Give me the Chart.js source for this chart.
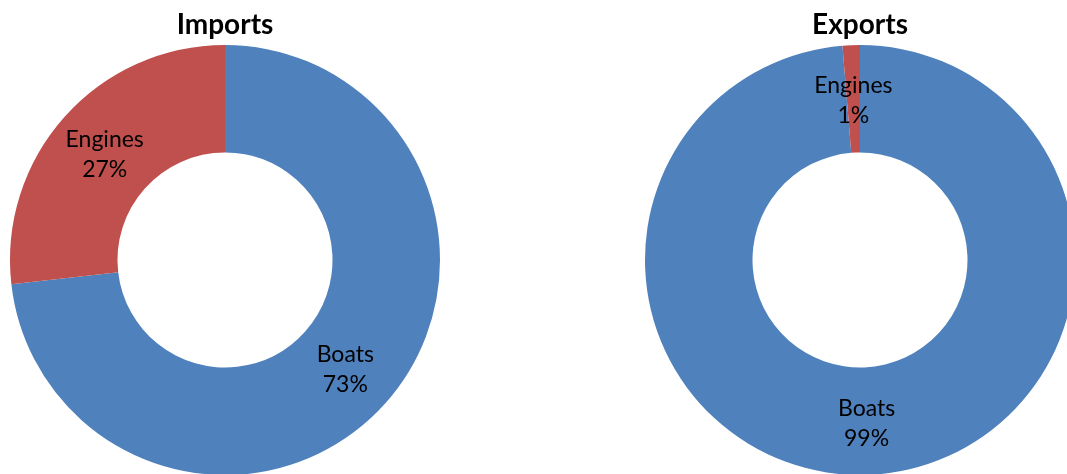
<!DOCTYPE html>
<html>
<head>
<meta charset="utf-8">
<script src="https://cdn.jsdelivr.net/npm/chart.js@4.4.1/dist/chart.umd.min.js"></script>
<style>
    html, body { margin: 0; padding: 0; background: #fff; overflow: hidden; width: 1067px; height: 474px; }
    canvas { position: absolute; top: 0; }
    #imports-chart { left: 0; }
    #exports-chart { left: 635px; }
</style>
</head>
<body>
<canvas id="imports-chart" width="450" height="475"></canvas>
<canvas id="exports-chart" width="450" height="475"></canvas>
<script>
// Chart data
const categories = ['Boats', 'Engines'];
const importsValues = [73.2, 26.8];
const exportsValues = [98.7, 1.3];
const sliceColors = ['#4F81BD', '#C0504D'];

const FONT = 'Lato, "Liberation Sans", sans-serif';

// Draws "Name\nNN%" at the middle of each slice
const sliceLabels = {
    id: 'sliceLabels',
    afterDatasetsDraw(chart) {
        const ctx = chart.ctx;
        const meta = chart.getDatasetMeta(0);
        const values = chart.data.datasets[0].data;
        const total = values.reduce((a, b) => a + b, 0);
        ctx.save();
        ctx.font = '23px ' + FONT;
        ctx.fillStyle = '#000';
        ctx.textAlign = 'center';
        ctx.textBaseline = 'middle';
        meta.data.forEach((arc, i) => {
            const pos = arc.tooltipPosition();
            const pct = Math.round(values[i] / total * 100) + '%';
            ctx.fillText(chart.data.labels[i], pos.x, pos.y - 13);
            ctx.fillText(pct, pos.x, pos.y + 17);
        });
        ctx.restore();
    }
};

function makeDonut(id, title, values) {
    const ctx = document.getElementById(id).getContext('2d');
    return new Chart(ctx, {
        type: 'doughnut',
        data: {
            labels: categories,
            datasets: [{
                data: values,
                backgroundColor: sliceColors,
                borderWidth: 0
            }]
        },
        options: {
            responsive: false,
            animation: false,
            cutout: '50%',
            layout: { padding: 0 },
            plugins: {
                legend: { display: false },
                tooltip: { enabled: false },
                title: {
                    display: true,
                    text: title,
                    color: '#000',
                    font: { family: FONT, size: 28, weight: 'bold', lineHeight: 1.2 },
                    padding: { top: 8, bottom: 3.4 }
                }
            }
        },
        plugins: [sliceLabels]
    });
}

makeDonut('imports-chart', 'Imports', importsValues);
makeDonut('exports-chart', 'Exports', exportsValues);
</script>
</body>
</html>
